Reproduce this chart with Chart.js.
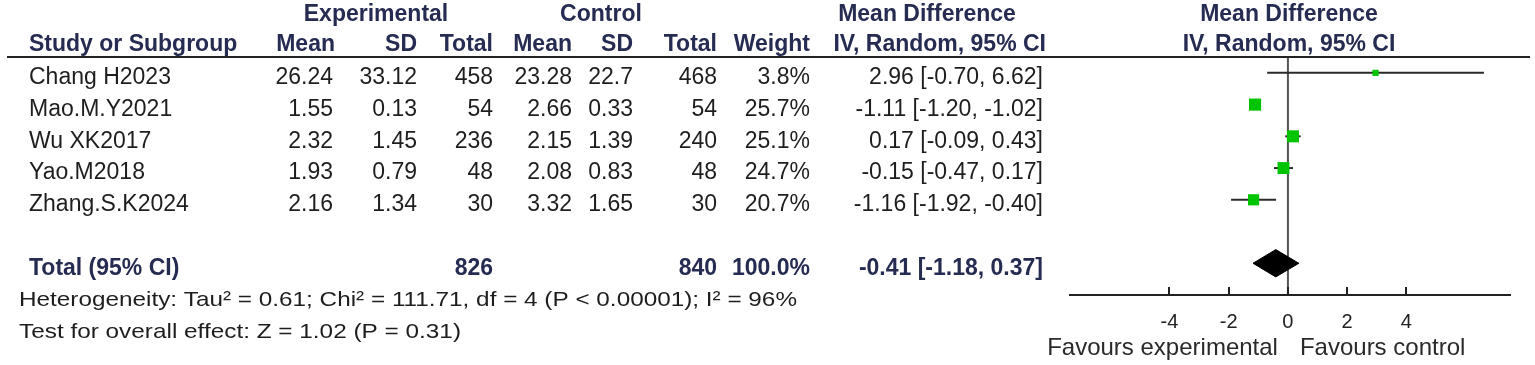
<!DOCTYPE html>
<html>
<head>
<meta charset="utf-8">
<script src="https://cdn.jsdelivr.net/npm/chart.js@4.4.1/dist/chart.umd.min.js"></script>
<style>
  body { margin: 0; background: #fff; }
  #wrap { width: 1535px; height: 365px; position: relative; }
</style>
</head>
<body>
<div id="wrap"><canvas id="forest"></canvas></div>
<script>
// study data
var studies = ["Chang H2023", "Mao.M.Y2021", "Wu XK2017", "Yao.M2018", "Zhang.S.K2024"];
var expMean = ["26.24", "1.55", "2.32", "1.93", "2.16"];
var expSD = ["33.12", "0.13", "1.45", "0.79", "1.34"];
var expTotal = [458, 54, 236, 48, 30];
var ctrlMean = ["23.28", "2.66", "2.15", "2.08", "3.32"];
var ctrlSD = ["22.7", "0.33", "1.39", "0.83", "1.65"];
var ctrlTotal = [468, 54, 240, 48, 30];
var weights = [3.8, 25.7, 25.1, 24.7, 20.7];
var md = [2.96, -1.11, 0.17, -0.15, -1.16];
var ciLow = [-0.70, -1.20, -0.09, -0.47, -1.92];
var ciHigh = [6.62, -1.02, 0.43, 0.17, -0.40];

// pooled result
var pooled = [-0.41, -1.18, 0.37]; // estimate, lower, upper
var totals = [826, 840];
var totalRow = 6;

var tickVals = [-4, -2, 0, 2, 4];

var FONT = '"Liberation Sans", Arial, sans-serif';
var HEAD = "#262b52";
var INK = "#1e1e1e";
var GREEN = "#00c400";

function fmtCI(m, lo, hi) {
    return m.toFixed(2) + " [" + lo.toFixed(2) + ", " + hi.toFixed(2) + "]";
}

var datasets = [];

// squares (on top)
datasets.push({
    label: "MD",
    data: md.map(function (v, i) { return { x: v, y: i }; }),
    pointStyle: "rect",
    pointRadius: function (c) {
        var side = 2.5 + 1.9 * Math.sqrt(weights[c.dataIndex]);
        return side / (2 * Math.SQRT1_2);
    },
    pointHoverRadius: 0,
    backgroundColor: GREEN,
    borderWidth: 0,
    order: 0
});

// confidence interval whiskers
studies.forEach(function (s, i) {
    datasets.push({
        label: s,
        data: [{ x: ciLow[i], y: i }, { x: ciHigh[i], y: i }],
        showLine: true,
        borderColor: "#2a2a2a",
        borderWidth: 2,
        pointRadius: 0,
        order: 1
    });
});

// pooled diamond
datasets.push({
    label: "Total",
    data: [
        { x: pooled[1], y: totalRow },
        { x: pooled[0], y: totalRow - 0.43 },
        { x: pooled[2], y: totalRow },
        { x: pooled[0], y: totalRow + 0.43 },
        { x: pooled[1], y: totalRow }
    ],
    showLine: true,
    fill: "shape",
    backgroundColor: "#000",
    borderColor: "#000",
    borderWidth: 1,
    pointRadius: 0,
    tension: 0,
    order: 1
});

// line of no effect
datasets.push({
    label: "zero",
    data: [{ x: 0, y: -0.5 }, { x: 0, y: 7 }],
    showLine: true,
    borderColor: "#555",
    borderWidth: 2,
    pointRadius: 0,
    order: 2
});

var tablePlugin = {
    id: "table",
    afterDraw: function (chart) {
        var ctx = chart.ctx;
        var xs = chart.scales.x, ys = chart.scales.y;
        var area = chart.chartArea;

        function t(s, x, y, align, font, color) {
            ctx.font = font;
            ctx.fillStyle = color;
            ctx.textAlign = align;
            ctx.textBaseline = "middle";
            ctx.fillText(s, x, y);
        }
        // left aligned text stretched to a given width
        function tw(s, x, y, font, color, width) {
            ctx.font = font;
            var sx = width / ctx.measureText(s).width;
            ctx.save();
            ctx.translate(x, y);
            ctx.scale(sx, 1);
            t(s, 0, 0, "left", font, color);
            ctx.restore();
        }

        ctx.save();
        // header rule
        ctx.strokeStyle = "#222";
        ctx.lineWidth = 2;
        ctx.beginPath();
        ctx.moveTo(7, area.top);
        ctx.lineTo(1530, area.top);
        ctx.stroke();

        // tick marks above the axis
        tickVals.forEach(function (v) {
            var px = Math.round(xs.getPixelForValue(v));
            ctx.beginPath();
            ctx.moveTo(px, area.bottom - 8);
            ctx.lineTo(px, area.bottom);
            ctx.stroke();
        });

        var hb = "bold 23px " + FONT;
        var rf = "23px " + FONT;
        t("Experimental", 376, 15, "center", hb, HEAD);
        t("Control", 601, 15, "center", hb, HEAD);
        t("Mean Difference", 927, 15, "center", hb, HEAD);
        t("Mean Difference", 1289, 15, "center", hb, HEAD);

        t("Study or Subgroup", 29, 45, "left", hb, HEAD);
        t("Mean", 335, 45, "right", hb, HEAD);
        t("SD", 417, 45, "right", hb, HEAD);
        t("Total", 493, 45, "right", hb, HEAD);
        t("Mean", 572, 45, "right", hb, HEAD);
        t("SD", 633, 45, "right", hb, HEAD);
        t("Total", 717, 45, "right", hb, HEAD);
        t("Weight", 810, 45, "right", hb, HEAD);
        t("IV, Random, 95% CI", 1046, 45, "right", hb, HEAD);
        t("IV, Random, 95% CI", 1289, 45, "center", hb, HEAD);

        studies.forEach(function (s, i) {
            var y = ys.getPixelForValue(i) + 5;
            t(s, 29, y, "left", rf, INK);
            t(expMean[i], 333, y, "right", rf, INK);
            t(expSD[i], 417, y, "right", rf, INK);
            t(String(expTotal[i]), 493, y, "right", rf, INK);
            t(ctrlMean[i], 572, y, "right", rf, INK);
            t(ctrlSD[i], 633, y, "right", rf, INK);
            t(String(ctrlTotal[i]), 717, y, "right", rf, INK);
            t(weights[i].toFixed(1) + "%", 810, y, "right", rf, INK);
            t(fmtCI(md[i], ciLow[i], ciHigh[i]), 1043, y, "right", rf, INK);
        });

        var sumW = weights.reduce(function (a, b) { return a + b; }, 0);
        var ty = ys.getPixelForValue(totalRow) + 5;
        t("Total (95% CI)", 29, ty, "left", hb, HEAD);
        t(String(totals[0]), 493, ty, "right", hb, HEAD);
        t(String(totals[1]), 717, ty, "right", hb, HEAD);
        t(sumW.toFixed(1) + "%", 810, ty, "right", hb, HEAD);
        t(fmtCI(pooled[0], pooled[1], pooled[2]), 1043, ty, "right", hb, HEAD);

        tw("Heterogeneity: Tau\u00b2 = 0.61; Chi\u00b2 = 111.71, df = 4 (P < 0.00001); I\u00b2 = 96%", 19, 300, "21px " + FONT, INK, 778);
        tw("Test for overall effect: Z = 1.02 (P = 0.31)", 19, 332, "21px " + FONT, INK, 442);

        var zx = xs.getPixelForValue(0);
        t("Favours experimental", zx - 10, 348, "right", "24px " + FONT, "#2a2a2a");
        t("Favours control", zx + 12, 348, "left", "24px " + FONT, "#2a2a2a");
        ctx.restore();
    }
};

var ctx = document.getElementById("forest").getContext("2d");
new Chart(ctx, {
    type: "scatter",
    data: { datasets: datasets },
    options: {
        responsive: true,
        maintainAspectRatio: false,
        animation: false,
        layout: { padding: { left: 1070, right: 25, top: 57, bottom: 0 } },
        plugins: { legend: { display: false }, tooltip: { enabled: false } },
        scales: {
            x: {
                type: "linear",
                position: "bottom",
                min: -7.36,
                max: 7.5,
                grid: { display: false, drawTicks: false },
                border: { display: true, color: "#222", width: 2 },
                ticks: { color: "#222", font: { family: FONT, size: 20 }, padding: 15, maxRotation: 0 },
                afterBuildTicks: function (s) { s.ticks = tickVals.map(function (v) { return { value: v }; }); },
                afterFit: function (s) { s.height = 70; }
            },
            y: { type: "linear", reverse: true, min: -0.5, max: 7, display: false }
        }
    },
    plugins: [tablePlugin]
});
</script>
</body>
</html>
